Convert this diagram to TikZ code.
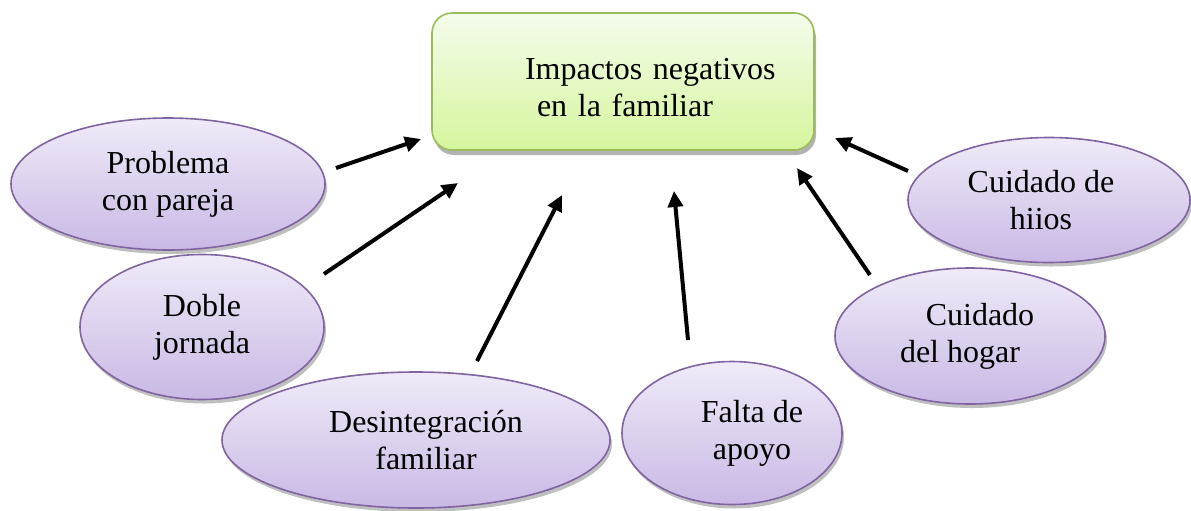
\documentclass[tikz,border=0pt]{standalone}
\usepackage{fontspec}
\setmainfont{Liberation Serif}
\usetikzlibrary{shapes.geometric,arrows.meta,shadows}
\definecolor{elTop}{HTML}{F0EAF8}
\definecolor{elBot}{HTML}{C9B9E5}
\definecolor{elLine}{HTML}{8064A2}
\definecolor{bxTop}{HTML}{F5FCEC}
\definecolor{bxBot}{HTML}{D5F59D}
\definecolor{bxLine}{HTML}{9BBB59}
\begin{document}
\begin{tikzpicture}[x=0.5pt,y=-0.5pt,
  txt/.style={font=\fontsize{16}{18.5}\selectfont, text=black},
  bubble/.style={txt, align=center, ellipse, draw=elLine, line width=0.8pt,
    top color=elTop, bottom color=elBot, inner sep=0pt,
    drop shadow={shadow xshift=1pt, shadow yshift=-2pt, opacity=0.25, fill=black}},
  hubbox/.style={txt, rectangle, rounded corners=10pt, draw=bxLine, line width=0.8pt,
    top color=bxTop, bottom color=bxBot, inner xsep=0pt, inner ysep=0pt,
    drop shadow={shadow xshift=1pt, shadow yshift=-2.5pt, opacity=0.3, fill=black}},
  arrowline/.style={line width=2pt, -{Triangle[length=8pt,width=7.5pt]}}]
\useasboundingbox (0,0) rectangle (1191,510);
\fill[white] (0,0) rectangle (1191,510);

\node[hubbox, minimum width=191pt, minimum height=68.5pt, text width=170pt, align=left]
  (hub) at (623,81.5) {\hspace*{36pt}\rule{0pt}{16.5pt}Impactos negativos\\\hspace*{42pt}en la familiar};

\node[bubble, minimum width=157pt, minimum height=66pt] (pc) at (168,184) {Problema\\con pareja};
\node[bubble, minimum width=122pt, minimum height=72.5pt] (dj) at (202,327) {Doble\\jornada};
\node[bubble, minimum width=194pt, minimum height=68pt] (di) at (416,440) {\hspace*{10pt}Desintegración\\\hspace*{10pt}familiar};
\node[bubble, minimum width=110pt, minimum height=71.5pt] (fa) at (732,433) {\hspace*{20pt}Falta de\\\hspace*{20pt}apoyo};
\node[bubble, minimum width=135pt, minimum height=68pt] (ch) at (970,336) {\hspace*{10pt}Cuidado\\del hogar\hspace*{10pt}};
\node[bubble, minimum width=141pt, minimum height=62.5pt] (cd) at (1049,200) {Cuidado de\hspace*{8pt}\\hiios\hspace*{8pt}};

\coordinate (a1s) at (336,168); \coordinate (a1e) at (421,139);
\coordinate (a2s) at (324,274); \coordinate (a2e) at (458,183);
\coordinate (a3s) at (477,361); \coordinate (a3e) at (562,195);
\coordinate (a4s) at (688,340); \coordinate (a4e) at (674,191);
\coordinate (a5s) at (870,275); \coordinate (a5e) at (797,168);
\coordinate (a6s) at (908,171); \coordinate (a6e) at (835,138);

\draw[arrowline] (a1s) -- (a1e);
\draw[arrowline] (a2s) -- (a2e);
\draw[arrowline] (a3s) -- (a3e);
\draw[arrowline] (a4s) -- (a4e);
\draw[arrowline] (a5s) -- (a5e);
\draw[arrowline] (a6s) -- (a6e);
\end{tikzpicture}
\end{document}
